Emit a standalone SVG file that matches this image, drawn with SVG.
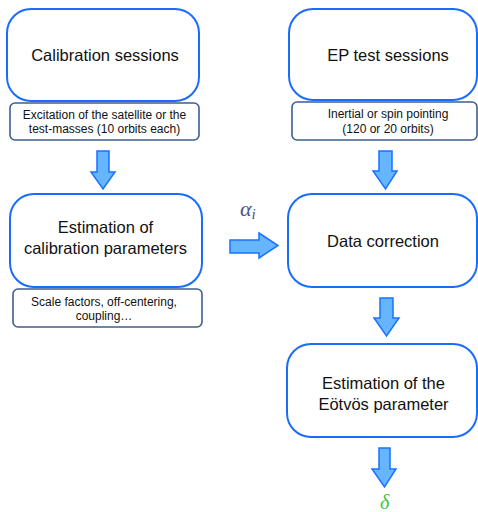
<svg xmlns="http://www.w3.org/2000/svg" width="478" height="512" viewBox="0 0 478 512">
<style>
.main{fill:#ffffff;stroke:#1a6cff;stroke-width:2}
.sub{fill:#ffffff;stroke:#3e5f8c;stroke-width:1.6}
.arrow{fill:#66b5ff;stroke:#1a72ff;stroke-width:1.5;stroke-linejoin:miter}
.t{font-family:"Liberation Sans",Arial,sans-serif;font-size:16.5px;fill:#111;text-anchor:middle}
.s{font-family:"Liberation Sans",Arial,sans-serif;font-size:12px;fill:#111;text-anchor:middle}
.m{font-family:"Liberation Serif","Times New Roman",serif;font-style:italic}
</style>
<rect width="478" height="512" fill="#ffffff"/>
<g id="calib-sessions">
<rect class="main" x="7" y="9" width="192" height="92" rx="24"/>
<text class="t" x="105" y="61">Calibration sessions</text>
</g>
<g id="calib-sessions-note">
<rect class="sub" x="10" y="103" width="189" height="37" rx="5"/>
<text class="s" x="104.5" y="119">Excitation of the satellite or the</text>
<text class="s" x="104.5" y="133">test-masses (10 orbits each)</text>
</g>
<g id="ep-sessions">
<rect class="main" x="289" y="9" width="188" height="91" rx="24"/>
<text class="t" x="388" y="61">EP test sessions</text>
</g>
<g id="ep-sessions-note">
<rect class="sub" x="292" y="102" width="185" height="38" rx="5"/>
<text class="s" x="388" y="118">Inertial or spin pointing</text>
<text class="s" x="388" y="133">(120 or 20 orbits)</text>
</g>
<g id="calib-estimation">
<rect class="main" x="10" y="194" width="192" height="93" rx="24"/>
<text class="t" x="105.5" y="233">Estimation of</text>
<text class="t" x="105.5" y="254">calibration parameters</text>
</g>
<g id="calib-estimation-note">
<rect class="sub" x="13" y="289" width="189" height="38" rx="5"/>
<text class="s" x="104" y="306">Scale factors, off-centering,</text>
<text class="s" x="104" y="320">coupling…</text>
</g>
<g id="data-correction">
<rect class="main" x="288" y="194" width="189" height="93" rx="24"/>
<text class="t" x="383" y="247">Data correction</text>
</g>
<g id="eotvos-estimation">
<rect class="main" x="287" y="344" width="190" height="93" rx="24"/>
<text class="t" x="383.5" y="389">Estimation of the</text>
<text class="t" x="383.5" y="410">Eötvös parameter</text>
</g>
<g id="connectors">
<path class="arrow" d="M97,151 H109 V172 H115 L103,189 L91,172 H97 Z"/>
<path class="arrow" d="M379,151 H392 V171 H397 L385.5,189 L373,171 H379 Z"/>
<path class="arrow" d="M380,298 H393 V318 H399 L386.5,336 L374,318 H380 Z"/>
<path class="arrow" d="M379,448 H390 V469 H396 L384.5,487 L372,469 H379 Z"/>
<path class="arrow" d="M230,240 H259 V233 L278,245.5 L259,258 V253 H230 Z"/>
<text class="m" x="240" y="216" font-size="22" fill="#4a5688">α<tspan font-size="15" dy="3">i</tspan></text>
<text class="m" x="380" y="509" font-size="20" fill="#3cc43c">δ</text>
</g>
</svg>
